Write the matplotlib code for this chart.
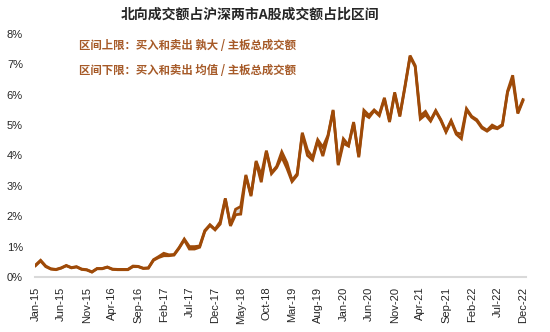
import numpy as np
import pandas as pd
import matplotlib
matplotlib.use("Agg")
import matplotlib.pyplot as plt

plt.rcParams['font.family'] = ['Liberation Sans', 'Noto Sans CJK SC']

# monthly, Jan-15 .. Dec-22 (% of main board turnover)
months = pd.date_range('2015-01-01', periods=96, freq='MS')

lower = [0.37, 0.53, 0.34, 0.26, 0.24, 0.29, 0.37, 0.30, 0.33, 0.25,
         0.23, 0.16, 0.27, 0.27, 0.32, 0.25, 0.24, 0.24, 0.24, 0.34,
         0.34, 0.28, 0.29, 0.55, 0.64, 0.70, 0.70, 0.72, 0.95, 1.22,
         0.92, 0.92, 0.98, 1.50, 1.70, 1.55, 1.74, 2.56, 1.68, 2.05,
         2.07, 3.32, 2.66, 3.78, 3.12, 4.12, 3.40, 3.60, 3.95, 3.58,
         3.14, 3.35, 4.70, 4.00, 3.85, 4.48, 3.98, 4.62, 5.47, 3.68,
         4.40, 4.31, 5.06, 3.94, 5.36, 5.25, 5.47, 5.31, 5.86, 5.10,
         6.04, 5.28, 6.24, 7.25, 6.92, 5.20, 5.34, 5.13, 5.45, 5.15,
         4.77, 5.12, 4.70, 4.55, 5.50, 5.26, 5.14, 4.90, 4.80, 4.92,
         4.88, 4.99, 6.08, 6.50, 5.38, 5.80]

upper = [0.39, 0.55, 0.36, 0.27, 0.25, 0.30, 0.38, 0.31, 0.34, 0.26,
         0.24, 0.17, 0.28, 0.28, 0.33, 0.26, 0.25, 0.25, 0.25, 0.36,
         0.35, 0.29, 0.30, 0.57, 0.67, 0.78, 0.73, 0.74, 0.97, 1.25,
         1.00, 1.00, 1.02, 1.53, 1.72, 1.57, 1.82, 2.59, 1.70, 2.23,
         2.32, 3.36, 2.70, 3.82, 3.35, 4.16, 3.44, 3.64, 4.12, 3.76,
         3.18, 3.40, 4.75, 4.18, 3.93, 4.52, 4.27, 4.66, 5.50, 3.72,
         4.55, 4.34, 5.10, 3.98, 5.49, 5.32, 5.50, 5.35, 5.90, 5.14,
         6.08, 5.32, 6.28, 7.29, 6.96, 5.30, 5.45, 5.16, 5.48, 5.18,
         4.80, 5.15, 4.75, 4.70, 5.54, 5.29, 5.18, 4.94, 4.83, 5.00,
         4.91, 5.02, 6.12, 6.64, 5.42, 5.84]

title = '北向成交额占沪深两市A股成交额占比区间'
label_upper = '区间上限：买入和卖出 孰大 / 主板总成交额'
label_lower = '区间下限：买入和卖出 均值 / 主板总成交额'

line_color = '#9E4A08'
text_color = '#A65A28'

x = np.arange(len(months))
tick_pos = x[::5]
tick_labels = [m.strftime('%b-%y') for m in months[::5]]

fig = plt.figure(figsize=(5.5, 3.32), dpi=100)
ax = fig.add_axes([0.0645, 0.1657, 0.891, 0.732])

ax.fill_between(x, lower, upper, color='#d9d9d9', lw=0)
ax.plot(x, upper, color=line_color, lw=2.0, solid_joinstyle='miter')
ax.plot(x, lower, color=line_color, lw=2.0, solid_joinstyle='miter')

ax.set_xlim(0, 95.5)
ax.set_ylim(0, 8)
ax.set_yticks(range(0, 9))
ax.set_yticklabels([f'{v}%' for v in range(0, 9)])
ax.set_xticks(tick_pos)
ax.set_xticklabels(tick_labels, rotation=90)

for s in ['top', 'right', 'left']:
    ax.spines[s].set_visible(False)
ax.spines['bottom'].set_color('#d9d9d9')
ax.spines['bottom'].set_linewidth(1.5)
ax.tick_params(axis='y', length=0, pad=9, labelsize=8, labelcolor='#262626')
ax.tick_params(axis='x', length=0, pad=7, labelsize=8, labelcolor='#262626')

fig.text(0.455, 0.955, title, ha='center', va='center', fontsize=10,
         fontweight='bold', color='#262626', family=['Noto Sans CJK SC'])
fig.text(0.143, 0.862, label_upper, ha='left', va='center', fontsize=8.2,
         fontweight='bold', color=text_color, family=['Noto Sans CJK SC'])
fig.text(0.143, 0.789, label_lower, ha='left', va='center', fontsize=8.2,
         fontweight='bold', color=text_color, family=['Noto Sans CJK SC'])

fig.savefig('out.png', dpi=100)
